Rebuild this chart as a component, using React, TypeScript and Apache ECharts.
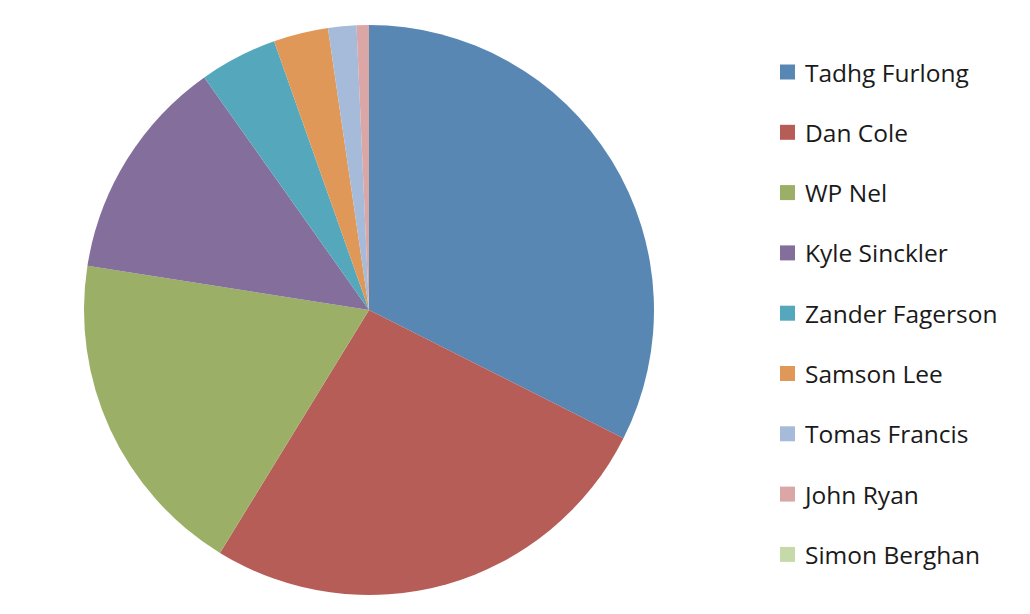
import React, { useEffect, useRef } from "react";
import * as echarts from "echarts";

const players = [
  "Tadhg Furlong",
  "Dan Cole",
  "WP Nel",
  "Kyle Sinckler",
  "Zander Fagerson",
  "Samson Lee",
  "Tomas Francis",
  "John Ryan",
  "Simon Berghan",
];
const shares = [32.4, 26.3, 18.7, 12.7, 4.4, 3.1, 1.6, 0.7, 0];
const colors = [
  "#5887B3",
  "#B75D58",
  "#9BAF66",
  "#846E9B",
  "#55A8BB",
  "#E09858",
  "#A6BBDA",
  "#DBA6A6",
  "#C6D9A9",
];

export default function App() {
  const ref = useRef<HTMLDivElement>(null);
  useEffect(() => {
    if (!ref.current) return;
    const chart = echarts.init(ref.current, undefined, { renderer: "svg" });
    chart.setOption({
      animation: false,
      color: colors,
      legend: {
        orient: "vertical",
        left: 775,
        top: 54,
        icon: "rect",
        itemWidth: 15,
        itemHeight: 15,
        itemGap: 34.3,
        textStyle: {
          fontFamily: "Open Sans",
          fontSize: 24.5,
          lineHeight: 26,
          color: "#1a1a1a",
          padding: [0, 0, 0, 5],
        },
        data: players,
      },
      series: [
        {
          type: "pie",
          center: [369, 310],
          radius: 285,
          startAngle: 90,
          clockwise: true,
          label: { show: false },
          labelLine: { show: false },
          emphasis: { disabled: true },
          itemStyle: { borderWidth: 0 },
          data: players.map((name, i) => ({ name, value: shares[i] })),
        },
      ],
    });
    return () => chart.dispose();
  }, []);
  return (
    <div
      ref={ref}
      style={{ position: "fixed", left: 0, top: 0, width: 1030, height: 614, background: "#fff" }}
    />
  );
}
